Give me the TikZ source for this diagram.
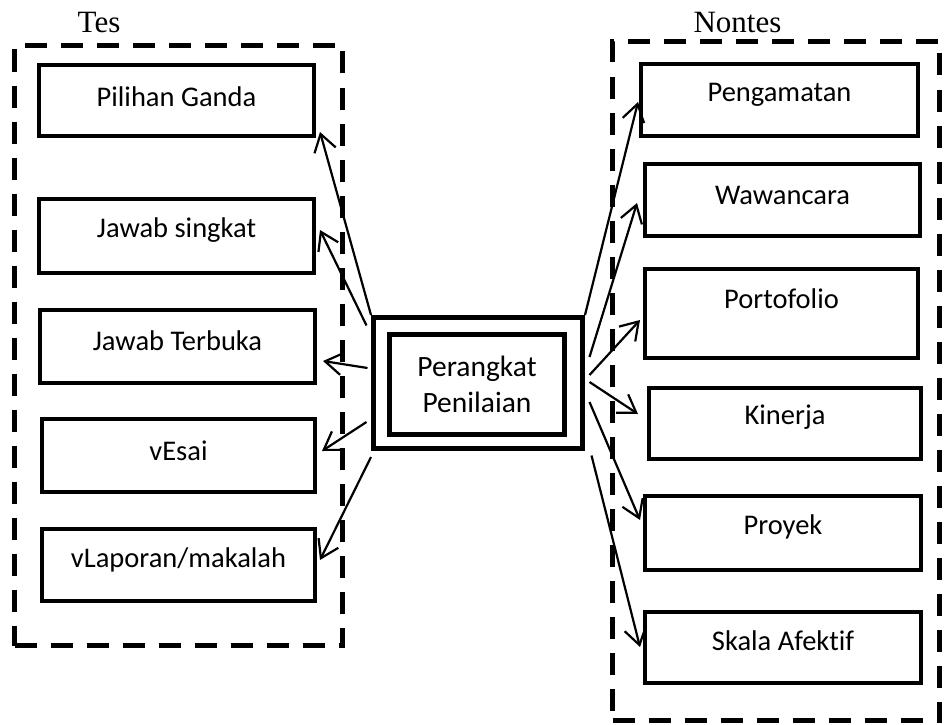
\documentclass[tikz,border=0pt]{standalone}
\usepackage{fontspec}
\setmainfont{Carlito}[Ligatures=NoCommon]
\newfontfamily\serifttl{Liberation Serif}
\usetikzlibrary{arrows.meta,calc}
\begin{document}
\begin{tikzpicture}[x=1pt,y=-1pt,
  box/.style={draw, line width=4pt, inner sep=0pt},
  lbl/.style={draw=none, inner sep=0pt, font=\fontsize{28.5}{34}\selectfont},
  dashbox/.style={draw, line width=5pt, dash pattern=on 22pt off 14pt, inner sep=0pt},
  ttl/.style={inner sep=0pt, anchor=base, font=\serifttl\fontsize{31}{36}\selectfont},
  conn/.style={line width=2.2pt, -{Straight Barb[length=17pt,width=22pt,line width=2.2pt]}}]
\useasboundingbox (0,0) rectangle (950,725);

% containers
\node[dashbox, minimum width=328pt, minimum height=600pt] (tes) at (178.5,345.5) {};
\node[dashbox, minimum width=327pt, minimum height=679pt] (nontes) at (776,381) {};
\node[ttl] (testtl) at (99,33) {Tes};
\node[ttl] (nontesttl) at (737.5,33) {Nontes};

% left boxes
\node[box, minimum width=275pt, minimum height=71pt, label={[lbl,yshift=4pt]center:Pilihan Ganda}] (pg) at (176.5,100.5) {};
\node[box, minimum width=275pt, minimum height=74pt, label={[lbl,yshift=6pt]center:Jawab singkat}] (js) at (176.5,236) {};
\node[box, minimum width=275pt, minimum height=73pt, label={[lbl,yshift=6pt]center:Jawab Terbuka}] (jt) at (177.5,346.5) {};
\node[box, minimum width=273pt, minimum height=73pt, label={[lbl,yshift=5pt]center:vEsai}] (ve) at (178.5,455.5) {};
\node[box, minimum width=273pt, minimum height=72pt, label={[lbl,yshift=5pt]center:vLaporan/makalah}] (vl) at (178.5,565) {};

% right boxes
\node[box, minimum width=277pt, minimum height=72pt, label={[lbl,yshift=5pt]center:Pengamatan}] (pe) at (779.5,100) {};
\node[box, minimum width=275pt, minimum height=72pt, label={[lbl,yshift=5pt]center:Wawancara}] (wa) at (782.5,200) {};
\node[box, minimum width=273pt, minimum height=89pt, label={[lbl,yshift=15pt]center:Portofolio}] (po) at (781.5,313.5) {};
\node[box, minimum width=272pt, minimum height=71pt, label={[lbl,yshift=6pt]center:Kinerja}] (ki) at (785,423.5) {};
\node[box, minimum width=276pt, minimum height=74pt, label={[lbl,yshift=6pt]center:Proyek}] (pr) at (783,533) {};
\node[box, minimum width=276pt, minimum height=71pt, label={[lbl,yshift=7pt]center:Skala Afektif}] (sa) at (783,647.5) {};

% center
\node[box, line width=5pt, minimum width=209pt, minimum height=131pt] (pa) at (478,383) {};
\node[box, line width=5pt, minimum width=175pt, minimum height=100pt, align=center,
      font=\fontsize{29.5}{36}\selectfont] (pi) at (477,384.5) {Perangkat\\Penilaian};

% connectors left
\draw[conn] (pa.north west) -- ($(pg.south east)+(4,-6)$);
\draw[conn] ($(pa.north west)+(-4.5,10.5)$) -- ($(js.east)+(4,-6)$);
\draw[conn] ($(pa.west)+(-3.5,-15)$) -- ($(jt.east)+(6,14.5)$);
\draw[conn] ($(pa.west)+(-4.5,39)$) -- ($(ve.east)+(5,-4.5)$);
\draw[conn] ($(pa.south west)+(0,6)$) -- ($(vl.east)+(3,-5)$);

% connectors right
\draw[conn] (pa.north east) -- ($(pe.west)+(-1,2)$);
\draw[conn] ($(pa.east)+(4.5,-26)$) -- ($(wa.west)+(-6,3)$);
\draw[conn] ($(pa.east)+(4.5,-8)$) -- ($(po.west)+(-3,6.5)$);
\draw[conn] ($(pa.east)+(4.5,-1)$) -- ($(ki.west)+(-9,-9.5)$);
\draw[conn] ($(pa.east)+(4.5,19)$) -- ($(pr.west)+(-3,-13)$);
\draw[conn] ($(pa.south east)+(6.5,4.5)$) -- ($(sa.west)+(-3,-0.5)$);
\end{tikzpicture}
\end{document}
